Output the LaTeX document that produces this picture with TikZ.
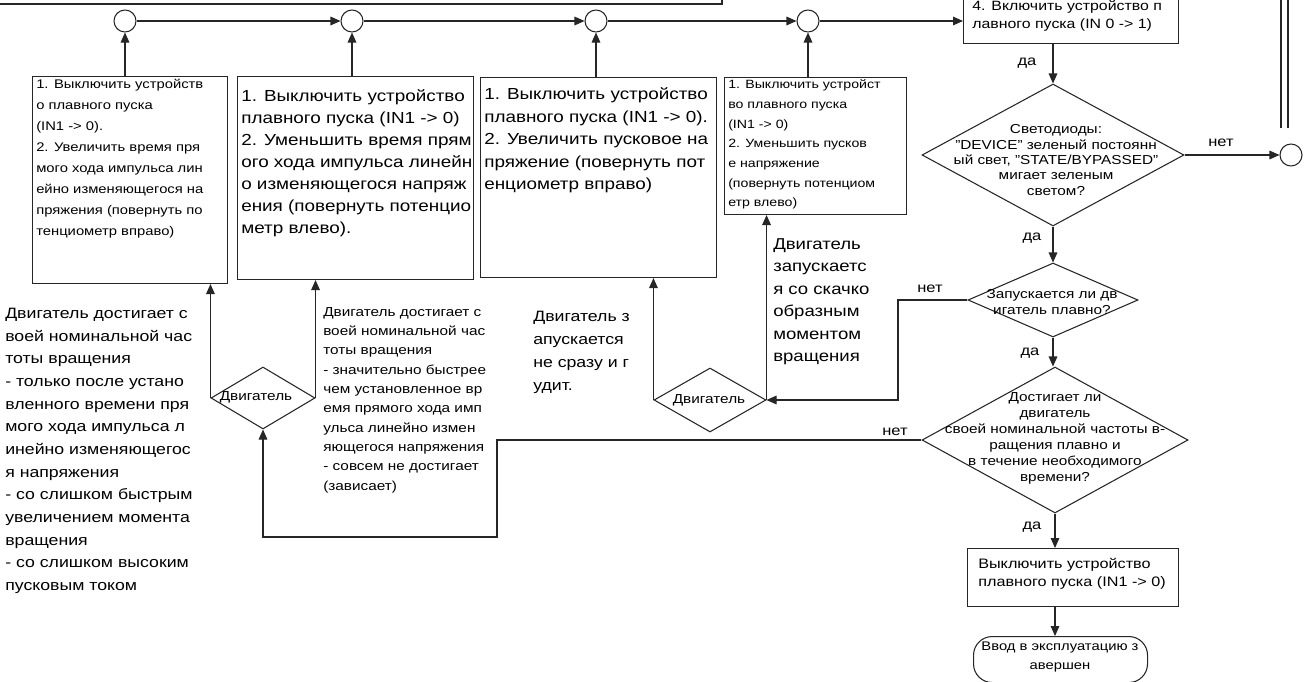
\documentclass[tikz,border=0pt]{standalone}
\usepackage{fontspec}
\setmainfont[FakeStretch=1.18]{Liberation Sans}
\usetikzlibrary{shapes.geometric,arrows.meta}
\newcommand\fz[2]{\fontsize{#1}{#2}\selectfont}
\begin{document}
\begin{tikzpicture}[x=0.75pt,y=-0.75pt,
  ln/.style={draw=black!85,line width=0.8pt},
  arr/.style={ln,-{Triangle[length=7.5pt,width=6.5pt]}},
  boxn/.style={draw=black!85,line width=0.8pt,rectangle,inner sep=0pt,anchor=north west},
  dia/.style={draw=black!85,line width=0.8pt,diamond,inner sep=0pt},
  circ/.style={draw=black!85,line width=0.8pt,circle,minimum size=22*0.75pt,inner sep=0pt},
  txt/.style={inner sep=0pt,align=left,anchor=north west},
  ctxt/.style={inner sep=0pt,align=center},
  lbl/.style={inner sep=0pt,font=\fz{10.5pt}{12pt}}]
\useasboundingbox (0,0) rectangle (1307,682);

% partial box at top left
\draw[ln] (-5,4) -- (722,4) -- (722,-5);
% lines at right edge
\draw[ln] (1281,-5) -- (1281,128);
\draw[ln] (1288,-5) -- (1288,128);

% connector circles
\node[circ] (c1) at (125,21) {};
\node[circ] (c2) at (352,21) {};
\node[circ] (c3) at (596,21) {};
\node[circ] (c4) at (808,21) {};
\node[circ] (c5) at (1291,155) {};

% boxes
\node[boxn,minimum width=195*0.75pt,minimum height=207*0.75pt] (b1) at (32,76) {};
\node[boxn,minimum width=236*0.75pt,minimum height=203*0.75pt] (b2) at (237,76) {};
\node[boxn,minimum width=236*0.75pt,minimum height=200*0.75pt] (b3) at (480,77) {};
\node[boxn,minimum width=182*0.75pt,minimum height=137*0.75pt] (b4) at (724,77) {};
\node[boxn,minimum width=215*0.75pt,minimum height=55*0.75pt] (b5) at (963,-12) {};
\node[boxn,minimum width=211*0.75pt,minimum height=58*0.75pt] (b6) at (967,548) {};
\node[boxn,rounded corners=14pt,minimum width=174*0.75pt,minimum height=46*0.75pt] (term) at (973,636) {};

% box texts
\node[txt,font=\fz{9.4pt}{15.75pt}] (t1) at (36,79) {1. Выключить устройств\\о плавного пуска\\(IN1 -> 0).\\2. Увеличить время пря\\мого хода импульса лин\\ейно изменяющегося на\\пряжения (повернуть по\\тенциометр вправо)};
\node[txt,font=\fz{12pt}{16.5pt}] (t2) at (241,89.5) {1. Выключить устройство\\плавного пуска (IN1 -> 0)\\2. Уменьшить время прям\\ого хода импульса линейн\\о изменяющегося напряж\\ения (повернуть потенцио\\метр влево).};
\node[txt,font=\fz{12pt}{16.9pt}] (t3) at (484,87.5) {1. Выключить устройство\\плавного пуска (IN1 -> 0).\\2. Увеличить пусковое на\\пряжение (повернуть пот\\енциометр вправо)};
\node[txt,font=\fz{9pt}{14.8pt}] (t4) at (728,79.4) {1. Выключить устройст\\во плавного пуска\\(IN1 -> 0)\\2. Уменьшить пусков\\е напряжение\\(повернуть потенциом\\етр влево)};
\node[txt,font=\fz{10.1pt}{13.5pt}] (t5) at (972,0.7) {4. Включить устройство п\\лавного пуска (IN 0 -> 1)};
\node[txt,font=\fz{10.3pt}{13.5pt}] (t6) at (978,558.5) {Выключить устройство\\плавного пуска (IN1 -> 0)};
\node[ctxt,font=\fz{9.4pt}{14.25pt}] (tt) at (1060,657) {Ввод в эксплуатацию з\\авершен};

% diamonds
\node[dia,minimum width=262*0.75pt,minimum height=142*0.75pt] (d1) at (1053,155) {};
\node[dia,minimum width=170*0.75pt,minimum height=74*0.75pt] (d2) at (1053,300) {};
\node[dia,minimum width=266*0.75pt,minimum height=146*0.75pt] (d5) at (1055,440) {};
\node[dia,minimum width=104*0.75pt,minimum height=62*0.75pt] (da) at (263,398) {};
\node[dia,minimum width=112*0.75pt,minimum height=64*0.75pt] (db) at (710,400) {};

\node[ctxt,font=\fz{9.75pt}{11.6pt}] (td1) at (1056,160) {Светодиоды:\\"DEVICE" зеленый постоянн\\ый свет, "STATE/BYPASSED"\\мигает зеленым\\светом?};
\node[ctxt,font=\fz{9.75pt}{11.6pt}] (td2) at (1052,302) {Запускается ли дв\\игатель плавно?};
\node[ctxt,font=\fz{9.75pt}{12pt}] (td5) at (1055,438) {Достигает ли\\двигатель\\своей номинальной частоты в-\\ращения плавно и\\в течение необходимого\\времени?};
\node[ctxt,font=\fz{9.75pt}{11.6pt}] (tda) at (256,397) {Двигатель};
\node[ctxt,font=\fz{9.75pt}{11.6pt}] (tdb) at (709,400) {Двигатель};

% free texts
\node[txt,font=\fz{11.25pt}{17pt}] (l1) at (5,308) {Двигатель достигает с\\воей номинальной час\\тоты вращения\\- только после устано\\вленного времени пря\\мого хода импульса л\\инейно изменяющегос\\я напряжения\\- со слишком быстрым\\увеличением момента\\вращения\\- со слишком высоким\\пусковым током};
\node[txt,font=\fz{9.75pt}{14.5pt}] (l2) at (323,307) {Двигатель достигает с\\воей номинальной час\\тоты вращения\\- значительно быстрее\\чем установленное вр\\емя прямого хода имп\\ульса линейно измен\\яющегося напряжения\\- совсем не достигает\\(зависает)};
\node[txt,font=\fz{11.25pt}{17.25pt}] (l3) at (533,311) {Двигатель з\\апускается\\не сразу и г\\удит.};
\node[txt,font=\fz{11.8pt}{16.9pt}] (l4) at (773,238) {Двигатель\\запускаетс\\я со скачко\\образным\\моментом\\вращения};

% top row connectors
\draw[arr] (c1.east) -- (c2.west);
\draw[arr] (c2.east) -- (c3.west);
\draw[arr] (c3.east) -- (c4.west);
\draw[arr] (c4.east) -- (c4.east -| b5.west);
\draw[arr] (b1.north -| c1.south) -- (c1.south);
\draw[arr] (b2.north -| c2.south) -- (c2.south);
\draw[arr] (b3.north -| c3.south) -- (c3.south);
\draw[arr] (b4.north -| c4.south) -- (c4.south);

% main column
\draw[arr] (b5.south -| d1.north) -- (d1.north);
\node[lbl] (y1) at (1027,63) {да};
\draw[arr] (d1.south) -- (d2.north);
\node[lbl] (y2) at (1032,238) {да};
\draw[arr] (d2.south) -- (d5.north -| d2.south);
\node[lbl] (y3) at (1030,353) {да};
\draw[arr] (d5.south) -- (b6.north -| d5.south);
\node[lbl] (y4) at (1032,527) {да};
\draw[arr] (b6.south -| d5.south) -- (term.north -| d5.south);

\draw[arr] (d1.east) -- (c5.west);
\node[lbl] (n1) at (1221,143) {нет};

\coordinate (k1) at (898,300);
\draw[arr] (d2.west) -- (k1) |- (db.east);
\node[lbl] (n2) at (930,289) {нет};
\draw[arr] (db.east) -- (db.east |- b4.south);
\draw[arr] (db.west) -- (db.west |- b3.south);

\coordinate (k2) at (497,537);
\draw[arr] (d5.west) -| (k2) -| (da.south);
\node[lbl] (n3) at (895,432) {нет};
\draw[arr] (da.west) -- (da.west |- b1.south);
\draw[arr] (da.east) -- (da.east |- b2.south);
\end{tikzpicture}
\end{document}
